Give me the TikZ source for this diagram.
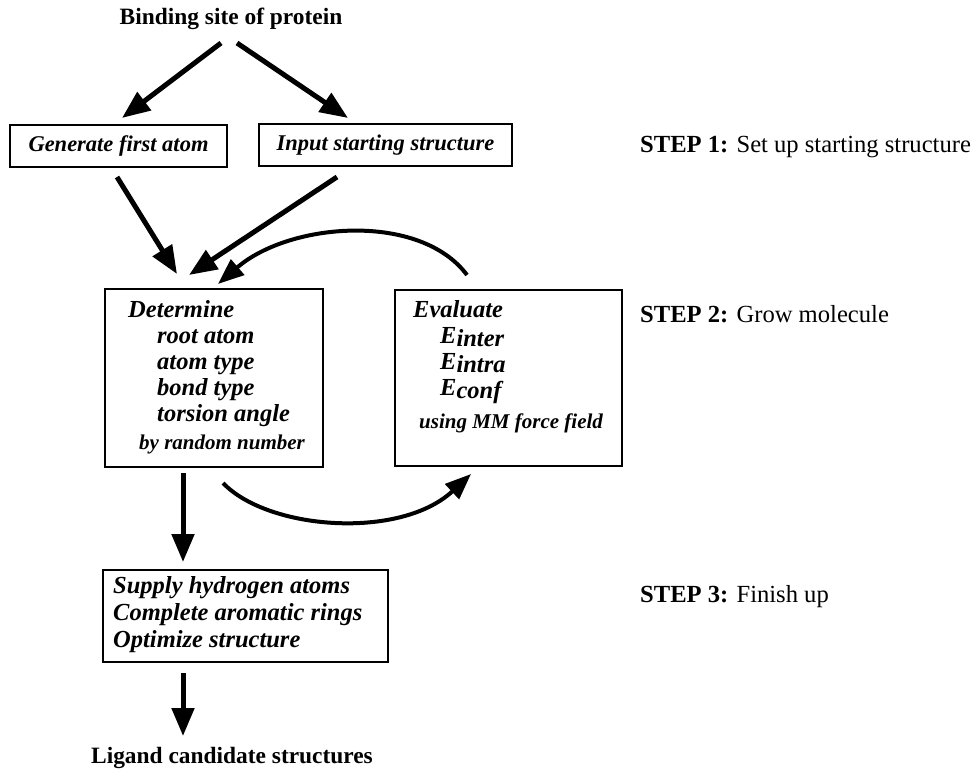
\documentclass[tikz,border=0pt]{standalone}
\usepackage{fontspec}
\setmainfont{Liberation Serif}
\usetikzlibrary{arrows.meta}
\begin{document}
\begin{tikzpicture}[x=1pt,y=-1pt,
  box/.style={draw, line width=1.8pt, inner sep=0pt},
  boxtxt/.style={font=\fontsize{22.5}{27}\selectfont\bfseries\itshape},
  lbl/.style={inner sep=0pt, anchor=base west, font=\fontsize{24.5}{27}\selectfont\bfseries\itshape},
  small/.style={inner sep=0pt, anchor=base west, font=\fontsize{21}{22}\selectfont\bfseries\itshape},
  title/.style={inner sep=0pt, anchor=base, font=\fontsize{23.4}{27}\selectfont\bfseries},
  steplbl/.style={inner sep=0pt, anchor=base west, font=\fontsize{24.6}{28}\selectfont},
  bigarrow/.style={line width=5pt, -{Triangle[length=28pt,width=22pt]}},
  curvearrow/.style={line width=4pt, -{Triangle[length=26pt,width=20pt]}}]
\useasboundingbox (0,0) rectangle (974,770);

% titles
\node[title] (bind) at (231,25) {Binding site of protein};
\node[title] (lig) at (232,763) {Ligand candidate structures};

% step 1 boxes
\node[box, boxtxt, minimum width=217pt, minimum height=42pt] (gen) at (118.5,146) {Generate first atom};
\node[box, boxtxt, minimum width=253pt, minimum height=42pt] (inp) at (385.5,145) {Input starting structure};

% step 2 boxes
\node[box, minimum width=218pt, minimum height=178pt] (det) at (214,378) {};
\node[box, minimum width=227pt, minimum height=176pt] (eva) at (508.5,378) {};

\node[lbl] (d1) at (128,317) {Determine};
\node[lbl] (d2) at (157,343) {root atom};
\node[lbl] (d3) at (157,369) {atom type};
\node[lbl] (d4) at (157,395) {bond type};
\node[lbl] (d5) at (157,421) {torsion angle};
\node[small] (d6) at (139,449) {by random number};

\node[lbl] (e1) at (413,317) {Evaluate};
\node[lbl] (e2) at (440,343) {E\raisebox{-3pt}{inter}};
\node[lbl] (e3) at (440,369) {E\raisebox{-3pt}{intra}};
\node[lbl] (e4) at (440,395) {E\raisebox{-3pt}{conf}};
\node[small] (e5) at (419,428) {using MM force field};

% step 3 box
\node[box, minimum width=285pt, minimum height=92pt] (sup) at (245.5,616) {};
\node[lbl] (s1) at (113,593) {Supply hydrogen atoms};
\node[lbl] (s2) at (113,620) {Complete aromatic rings};
\node[lbl] (s3) at (113,647) {Optimize structure};

% step labels
\node[steplbl] (st1) at (640,153) {\textbf{STEP 1:} Set up starting structure};
\node[steplbl] (st2) at (640,322) {\textbf{STEP 2:} Grow molecule};
\node[steplbl] (st3) at (640,602) {\textbf{STEP 3:} Finish up};

% connector coordinates
\coordinate (bL) at (221,43);
\coordinate (bR) at (237,43);
\coordinate (genT) at (122,118);
\coordinate (inpT) at (348,118);
\coordinate (genB) at (117,177);
\coordinate (inpB) at (337,177);
\coordinate (detT1) at (177,274);
\coordinate (detT2) at (189,275);
\coordinate (detT3) at (218,284);
\coordinate (evaT) at (467,275);
\coordinate (detB) at (223,483);
\coordinate (evaB) at (471,474);
\coordinate (detS) at (183,473);
\coordinate (supN) at (183,562);
\coordinate (supS) at (183,673);
\coordinate (ligN) at (183,736);

\draw[bigarrow] (bL) -- (genT);
\draw[bigarrow] (bR) -- (inpT);
\draw[bigarrow] (genB) -- (detT1);
\draw[bigarrow] (inpB) -- (detT2);
\draw[curvearrow] (evaT) .. controls (420,212) and (290,222) .. (detT3);
\draw[curvearrow] (detB) .. controls (268,530) and (400,540) .. (evaB);
\draw[bigarrow] (detS) -- (supN);
\draw[bigarrow] (supS) -- (ligN);
\end{tikzpicture}
\end{document}
